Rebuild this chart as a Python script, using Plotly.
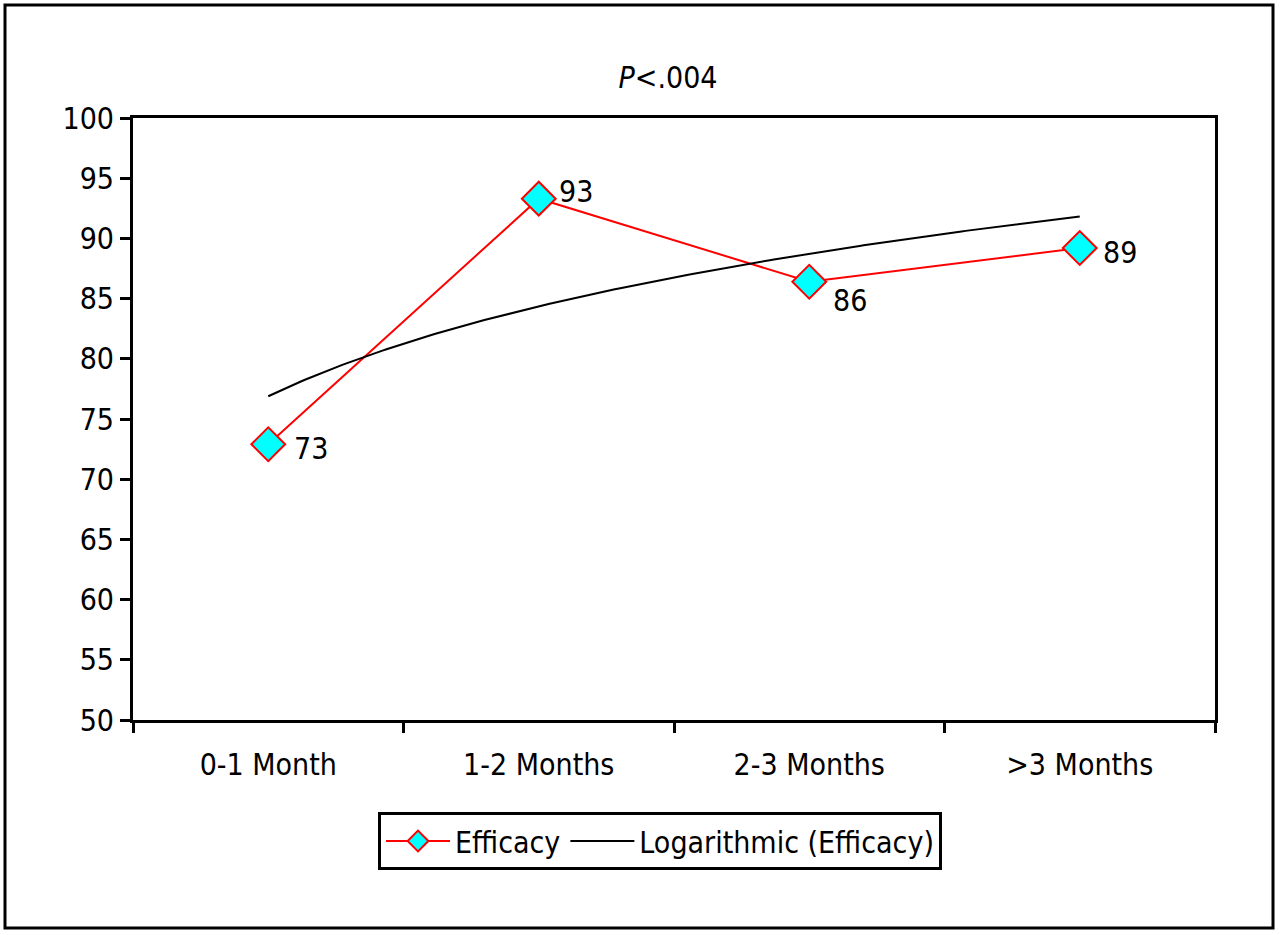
import numpy as np
import plotly.graph_objects as go

categories = ["0-1 Month", "1-2 Months", "2-3 Months", ">3 Months"]
efficacy = [72.9, 93.3, 86.4, 89.2]
y_ticks = [50, 55, 60, 65, 70, 75, 80, 85, 90, 95, 100]
title_text = "<i>P</i>&lt;.004"

FONT = "Liberation Sans Narrow, Arial Narrow, DejaVu Sans Condensed, sans-serif"
FS = 30

xidx = np.arange(1, len(categories) + 1)
# logarithmic least-squares trendline (as Excel computes it)
b, a = np.polyfit(np.log(xidx), efficacy, 1)
xt = np.linspace(1, len(categories), 200)
yt = a + b * np.log(xt)

fig = go.Figure()
fig.add_trace(go.Scatter(
    x=xidx, y=efficacy, mode="lines+markers", name="Efficacy",
    line=dict(color="#ff0000", width=2),
    marker=dict(symbol="diamond", size=26, color="#00ffff",
                line=dict(color="#ff0000", width=2)),
))
fig.add_trace(go.Scatter(
    x=xt, y=yt, mode="lines", name="Logarithmic (Efficacy)",
    line=dict(color="black", width=2),
))

shifts = [(43, -4), (37, 7), (41, -19), (40, -4)]
for xi, v, (dx, dy) in zip(xidx, efficacy, shifts):
    fig.add_annotation(x=xi, y=v, text=str(int(round(v))), showarrow=False,
                       xshift=dx, yshift=dy, font=dict(size=FS, color="black", family=FONT))

L, R, T, B = 133, 65, 118, 215
W, H = 1280, 935
pw, ph = W - L - R, H - T - B
fig.add_shape(type="rect", xref="paper", yref="paper",
              x0=(5 - L) / pw, x1=(1273 - L) / pw,
              y0=(H - B - 928) / ph, y1=(H - B - 5) / ph,
              line=dict(color="black", width=3), fillcolor="rgba(0,0,0,0)", layer="below")

fig.update_layout(
    width=W, height=H,
    margin=dict(l=L, r=R, t=T, b=B),
    paper_bgcolor="white", plot_bgcolor="white",
    font=dict(family=FONT, size=FS, color="black"),
    title=dict(text=title_text, x=668 / W, xanchor="center",
               y=1 - 77 / H, yanchor="middle", font=dict(size=FS, family=FONT)),
    showlegend=True,
    legend=dict(orientation="h", x=(660 - L) / pw, xanchor="center",
                y=(H - B - 841) / ph, yanchor="middle",
                bordercolor="black", borderwidth=3, bgcolor="white",
                font=dict(size=FS, family=FONT), itemwidth=64),
)
fig.update_xaxes(
    range=[0.5, len(categories) + 0.5], tickmode="array", tickvals=list(xidx), ticktext=categories,
    ticks="", showline=True, linecolor="black", linewidth=3, mirror=True,
    showgrid=False, zeroline=False, ticklabelstandoff=16,
    minor=dict(tickmode="array", tickvals=[0.5, 1.5, 2.5, 3.5, 4.5], ticks="outside",
               ticklen=10, tickwidth=3, tickcolor="black", showgrid=False),
    tickfont=dict(size=FS, family=FONT),
)
fig.update_yaxes(
    range=[50, 100], tickmode="array", tickvals=y_ticks,
    ticks="outside", ticklen=10, tickwidth=3, tickcolor="black",
    showline=True, linecolor="black", linewidth=3, mirror=True,
    showgrid=False, zeroline=False, tickfont=dict(size=FS, family=FONT),
)
fig.write_html("out.html", config={"displayModeBar": False},
               post_script="document.body.style.margin='0';document.body.style.overflow='hidden';")
